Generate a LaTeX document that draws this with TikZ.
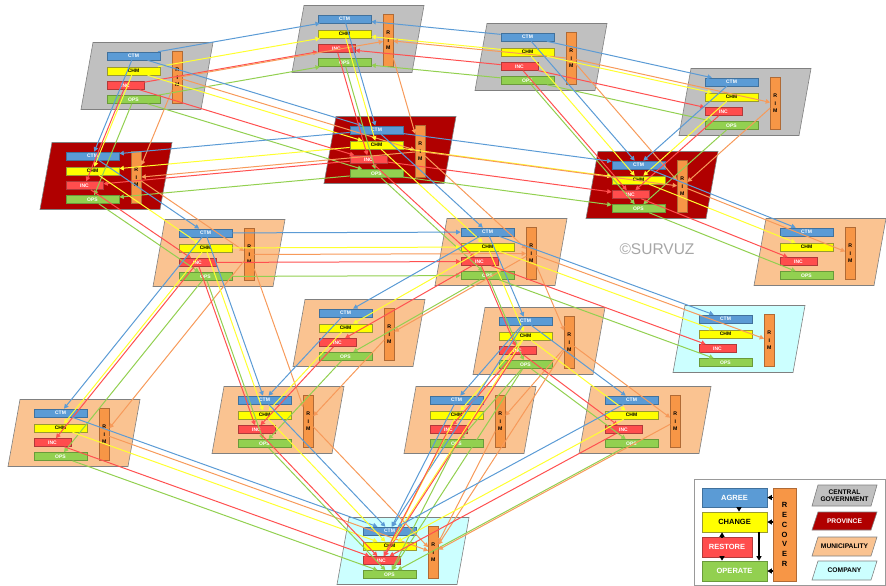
\documentclass[tikz,border=0pt]{standalone}
\usepackage{fontspec}
\setmainfont{Liberation Sans}
\usetikzlibrary{arrows.meta}

% box and unit colours
\definecolor{ctmfill}{HTML}{5B9BD5}
\definecolor{ctmdraw}{HTML}{41719C}
\definecolor{chmfill}{HTML}{FFFF00}
\definecolor{chmdraw}{HTML}{9A9A30}
\definecolor{incfill}{HTML}{FF4D4D}
\definecolor{incdraw}{HTML}{B03A3A}
\definecolor{opsfill}{HTML}{92D050}
\definecolor{opsdraw}{HTML}{6A9A3A}
\definecolor{rimfill}{HTML}{F79646}
\definecolor{rimdraw}{HTML}{B06A35}
\definecolor{govfill}{HTML}{C0C0C0}
\definecolor{provfill}{HTML}{B00000}
\definecolor{munfill}{HTML}{FAC391}
\definecolor{compfill}{HTML}{CCFFFF}
\definecolor{unitdraw}{HTML}{808080}
% connector colours
\definecolor{lnblue}{HTML}{5B9BD5}
\definecolor{lnyellow}{HTML}{FFFF30}
\definecolor{lnred}{HTML}{FF5050}
\definecolor{lngreen}{HTML}{92D050}
\definecolor{lnorange}{HTML}{F79A5A}

\tikzset{
  box/.style={draw, line width=0.6pt, inner sep=0pt,
    font=\fontsize{5}{5}\selectfont\bfseries},
  ctmbox/.style={box, fill=ctmfill, draw=ctmdraw, text=white, minimum width=53pt, minimum height=8pt},
  chmbox/.style={box, fill=chmfill, draw=chmdraw, text=black, minimum width=53pt, minimum height=8pt},
  incbox/.style={box, fill=incfill, draw=incdraw, text=white, minimum width=37pt, minimum height=8pt},
  opsbox/.style={box, fill=opsfill, draw=opsdraw, text=white, minimum width=53pt, minimum height=8pt},
  rimbox/.style={box, fill=rimfill, draw=rimdraw, text=black, minimum width=9.5pt, minimum height=52pt,
    align=center, font=\fontsize{5.2}{7.5}\selectfont\bfseries},
  unitshape/.style={draw=unitdraw, line width=0.6pt},
  gov/.style={unitshape, fill=govfill},
  prov/.style={unitshape, fill=provfill},
  mun/.style={unitshape, fill=munfill},
  comp/.style={unitshape, fill=compfill},
  link/.style={line width=1pt, -{Triangle[length=4.5pt,width=4.5pt]}},
  lgbox/.style={draw, line width=0.7pt, inner sep=0pt, font=\fontsize{7.5}{7.5}\selectfont\bfseries},
  lgarrow/.style={line width=1.4pt, -{Triangle[length=4.5pt,width=5pt]}},
  lgtext/.style={inner sep=0pt, align=center, font=\fontsize{6.7}{7.4}\selectfont\bfseries},
}

% one organisation: parallelogram with its four process bars and the RIM bar
\newcommand\orgunit[4]{%
  \begin{scope}[shift={(#2,#3)}]
    \filldraw[#4] (-54,-33.5) -- (66,-33.5) -- (54,33.5) -- (-66,33.5) -- cycle;
    \node[ctmbox] (#1-ctm) at (-13.5,-20) {CTM};
    \node[chmbox] (#1-chm) at (-13.5,-5) {CHM};
    \node[incbox] (#1-inc) at (-21.5,9.5) {INC};
    \node[opsbox] (#1-ops) at (-13.5,23.5) {OPS};
    \node[rimbox] (#1-rim) at (30.25,1.5) {R\\I\\M};
  \end{scope}}

% five parallel process flows from one organisation to another
\newcommand\flow[2]{%
  \foreach \pc/\lc in {ctm/lnblue,chm/lnyellow,inc/lnred,ops/lngreen,rim/lnorange}{%
    \draw[link, color=\lc] (#1-\pc) -- (#2-\pc);}}

\begin{document}
\begin{tikzpicture}[x=1pt, y=-1pt]
\useasboundingbox (0,0) rectangle (886,586);

% central government
\orgunit{G1}{147}{76}{gov}
\orgunit{G2}{358}{39}{gov}
\orgunit{G3}{541}{57}{gov}
\orgunit{G4}{745}{102}{gov}
% provinces
\orgunit{P1}{106}{176}{prov}
\orgunit{P2}{390}{150}{prov}
\orgunit{P3}{652}{185}{prov}
% municipalities
\orgunit{M1}{219}{253}{mun}
\orgunit{M2}{501}{252}{mun}
\orgunit{M3}{820}{252}{mun}
\orgunit{M4}{359}{333}{mun}
\orgunit{M5}{539}{341}{mun}
\orgunit{M6}{74}{433}{mun}
\orgunit{M7}{278}{420}{mun}
\orgunit{M8}{470}{420}{mun}
\orgunit{M9}{645}{420}{mun}
% companies
\orgunit{C1}{739}{339}{comp}
\orgunit{C2}{403}{551}{comp}

% watermark
\node[text=black!35, inner sep=0pt, font=\fontsize{15.5}{15.5}\selectfont] (mark) at (657,249.5) {©SURVUZ};

% flows between organisations
\flow{G1}{G2}
\flow{G3}{G2}
\flow{G3}{G4}
\flow{G1}{P1}
\flow{G1}{P2}
\flow{G2}{P2}
\flow{G3}{P3}
\flow{G4}{P3}
\flow{P2}{P1}
\flow{P2}{P3}
\flow{P1}{M1}
\flow{P2}{M2}
\flow{P3}{M3}
\flow{M1}{M2}
\flow{M1}{M6}
\flow{M1}{M7}
\flow{M2}{M4}
\flow{M2}{M5}
\flow{M2}{C1}
\flow{M4}{M7}
\flow{M5}{M8}
\flow{M5}{M9}
\flow{M5}{C2}
\flow{M6}{C2}
\flow{M7}{C2}
\flow{M8}{C2}
\flow{M9}{C2}

% legend
\draw[draw=black!40, line width=0.8pt, fill=white] (694,479) rectangle (885.5,585.5);
\node[lgbox, fill=ctmfill, draw=ctmdraw, text=white, minimum width=65pt, minimum height=19pt] (lg-agree) at (734.5,497.5) {AGREE};
\node[lgbox, fill=chmfill, draw=chmdraw, text=black, minimum width=65pt, minimum height=20pt] (lg-change) at (734.5,522) {CHANGE};
\node[lgbox, fill=incfill, draw=incdraw, text=white, minimum width=50pt, minimum height=20pt] (lg-restore) at (727,547) {RESTORE};
\node[lgbox, fill=opsfill, draw=opsdraw, text=white, minimum width=65pt, minimum height=20pt] (lg-operate) at (734.5,571) {OPERATE};
\node[lgbox, fill=rimfill, draw=rimdraw, text=black, minimum width=23pt, minimum height=93pt, align=center,
  font=\fontsize{7.5}{9.8}\selectfont\bfseries] (lg-recover) at (784.5,534.5) {R\\E\\C\\O\\V\\E\\R};

\draw[lgarrow] ([xshift=4.5pt]lg-agree.south) -- ([xshift=4.5pt]lg-change.north);
\draw[lgarrow] ([xshift=24.5pt]lg-change.south) -- ([xshift=24.5pt]lg-operate.north);
\draw[lgarrow] ([xshift=-5pt]lg-restore.north) -- ([xshift=-12.5pt]lg-change.south);
\draw[lgarrow] ([xshift=-5pt]lg-restore.south) -- ([xshift=-12.5pt]lg-operate.north);
\draw[lgarrow] (lg-recover.west |- lg-agree) -- (lg-agree.east);
\draw[lgarrow] (lg-recover.west |- lg-change) -- (lg-change.east);
\draw[lgarrow] (lg-recover.west |- lg-operate) -- (lg-operate.east);

\filldraw[gov] (818,485) -- (877,485) -- (871,506) -- (812,506) -- cycle;
\node[lgtext, text=black] (lg-gov) at (844.5,495.5) {CENTRAL\\GOVERNMENT};
\filldraw[prov] (818,512) -- (877,512) -- (871,530) -- (812,530) -- cycle;
\node[lgtext, text=white] (lg-prov) at (844.5,521) {PROVINCE};
\filldraw[mun] (818,537) -- (877,537) -- (871,556) -- (812,556) -- cycle;
\node[lgtext, text=black] (lg-mun) at (844.5,546.5) {MUNICIPALITY};
\filldraw[comp] (818,561) -- (877,561) -- (871,580) -- (812,580) -- cycle;
\node[lgtext, text=black] (lg-comp) at (844.5,570.5) {COMPANY};
\end{tikzpicture}
\end{document}
